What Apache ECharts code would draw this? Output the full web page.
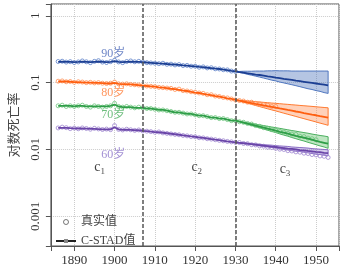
<!DOCTYPE html>
<html>
<head>
<meta charset="utf-8">
<script src="https://cdn.jsdelivr.net/npm/echarts@6/dist/echarts.min.js"></script>
<style>
  html, body { margin: 0; padding: 0; background: #fff; }
  #main { width: 344px; height: 269px; }
</style>
</head>
<body>
<div id="main"></div>
<script>
// 年份：观测从1886年开始，预测从1930年开始
var startYear = 1886;
var cutYear = 1930;
var xTicks = [1890, 1900, 1910, 1920, 1930, 1940, 1950];
var yTicks = [1, 0.1, 0.01, 0.001];
var periodLines = [1907, 1930];

// 真实值（观测）
var obs90 = [0.207,0.209,0.203,0.206,0.200,0.204,0.211,0.205,0.199,0.208,0.213,0.203,0.200,0.206,0.216,0.204,0.199,0.207,0.211,0.205,
  0.208,0.203,0.199,0.197,0.195,0.192,0.195,0.188,0.189,0.184,0.186,0.180,0.181,0.176,0.176,0.170,0.172,0.166,0.167,0.161,
  0.160,0.156,0.155,0.149,0.147];
var obs80 = [0.105,0.106,0.103,0.104,0.101,0.103,0.102,0.100,0.101,0.099,0.100,0.098,0.097,0.098,0.102,0.096,0.095,0.096,0.094,0.093,
  0.092,0.090,0.089,0.088,0.087,0.085,0.084,0.083,0.082,0.079,0.080,0.076,0.075,0.073,0.072,0.070,0.069,0.066,0.066,0.063,
  0.062,0.060,0.059,0.057,0.055,0.054,0.053,0.051,0.051,0.049,0.048,0.047,0.046,0.044,0.044];
var obs70 = [0.045,0.046,0.044,0.045,0.044,0.045,0.046,0.044,0.043,0.045,0.044,0.043,0.044,0.045,0.049,0.044,0.043,0.044,0.043,0.042,
  0.043,0.042,0.041,0.041,0.040,0.039,0.039,0.038,0.037,0.036,0.036,0.035,0.034,0.034,0.033,0.032,0.032,0.031,0.030,0.030,
  0.029,0.029,0.028,0.027,0.027,0.026,0.0255,0.0245,0.024,0.0228,0.0222,0.0212,0.0208,0.0198,0.0194,0.0186,0.0182,0.0174,0.0170,0.0168,
  0.0158,0.0156,0.0148,0.0145,0.0140];
var obs60 = [0.0210,0.0216,0.0212,0.0205,0.0209,0.0204,0.0210,0.0206,0.0201,0.0207,0.0203,0.0199,0.0202,0.0198,0.0228,0.0200,0.0196,0.0201,0.0197,0.0193,
  0.0196,0.0190,0.0188,0.0185,0.0181,0.0183,0.0177,0.0174,0.0171,0.0168,0.0166,0.0162,0.0160,0.0156,0.0155,0.0150,0.0149,0.0145,0.0143,0.0140,
  0.0137,0.0135,0.0132,0.0130,0.0128,0.0127,0.0123,0.0122,0.0118,0.0117,0.0113,0.0112,0.0108,0.0107,0.0104,0.0101,0.0100,0.0096,0.0095,0.0092,
  0.0091,0.0088,0.0087,0.0084,0.0083,0.0080,0.0079,0.0076];

// C-STAD 拟合值 1886-1930
var fit90 = [0.205,0.206,0.205,0.204,0.203,0.204,0.206,0.205,0.203,0.205,0.207,0.205,0.203,0.205,0.210,0.205,0.202,0.204,0.206,0.205,
  0.205,0.203,0.200,0.198,0.196,0.194,0.193,0.190,0.188,0.186,0.184,0.181,0.179,0.177,0.175,0.172,0.170,0.167,0.165,0.162,
  0.160,0.157,0.154,0.150,0.147];
var fit80 = [0.104,0.104,0.104,0.103,0.102,0.102,0.101,0.100,0.100,0.099,0.099,0.098,0.097,0.097,0.099,0.096,0.095,0.095,0.094,0.093,
  0.092,0.090,0.089,0.088,0.087,0.085,0.084,0.083,0.081,0.080,0.078,0.076,0.075,0.073,0.071,0.070,0.068,0.066,0.065,0.063,
  0.062,0.060,0.058,0.057,0.055];
var fit70 = [0.045,0.045,0.045,0.045,0.044,0.045,0.045,0.044,0.044,0.044,0.044,0.044,0.044,0.045,0.047,0.044,0.043,0.043,0.043,0.042,
  0.042,0.042,0.041,0.041,0.040,0.039,0.039,0.038,0.037,0.036,0.036,0.035,0.034,0.034,0.033,0.032,0.032,0.031,0.030,0.030,
  0.029,0.029,0.028,0.027,0.027];
var fit60 = [0.0210,0.0211,0.0210,0.0208,0.0207,0.0206,0.0207,0.0205,0.0203,0.0204,0.0202,0.0200,0.0200,0.0200,0.0215,0.0200,0.0197,0.0198,0.0196,0.0194,
  0.0194,0.0190,0.0188,0.0185,0.0182,0.0181,0.0178,0.0175,0.0172,0.0169,0.0166,0.0163,0.0160,0.0157,0.0155,0.0151,0.0149,0.0146,0.0143,0.0140,
  0.0138,0.0135,0.0132,0.0130,0.0128];

// 预测 1930-1953：均值、上界、下界
var pred90 = [0.147,0.144,0.141,0.138,0.135,0.132,0.130,0.127,0.124,0.122,0.119,0.117,0.114,0.112,0.110,0.107,0.105,0.103,0.101,0.099,0.097,0.095,0.093,0.091];
var up90   = [0.147,0.147,0.148,0.148,0.148,0.149,0.149,0.149,0.150,0.150,0.151,0.150,0.150,0.150,0.149,0.149,0.149,0.149,0.149,0.149,0.149,0.149,0.149,0.149];
var lo90   = [0.147,0.142,0.138,0.133,0.129,0.125,0.121,0.117,0.113,0.109,0.106,0.102,0.099,0.096,0.093,0.090,0.087,0.084,0.081,0.079,0.076,0.074,0.071,0.069];
var pred80 = [0.055,0.0536,0.0522,0.0508,0.0495,0.0482,0.0470,0.0457,0.0445,0.0434,0.0422,0.0411,0.0401,0.0390,0.0380,0.0370,0.0361,0.0351,0.0342,0.0333,0.0325,0.0316,0.0308,0.0300];
var up80   = [0.055,0.0544,0.0537,0.0531,0.0525,0.0519,0.0513,0.0507,0.0501,0.0495,0.0490,0.0484,0.0478,0.0473,0.0467,0.0462,0.0456,0.0451,0.0446,0.0441,0.0435,0.0430,0.0425,0.0420];
var lo80   = [0.055,0.0530,0.0510,0.0491,0.0473,0.0455,0.0438,0.0422,0.0406,0.0391,0.0377,0.0363,0.0349,0.0336,0.0324,0.0312,0.0300,0.0289,0.0278,0.0268,0.0258,0.0248,0.0239,0.0230];
var pred70 = [0.0270,0.0261,0.0252,0.0243,0.0235,0.0227,0.0219,0.0212,0.0205,0.0198,0.0191,0.0184,0.0178,0.0172,0.0166,0.0160,0.0155,0.0150,0.0145,0.0140,0.0135,0.0130,0.0126,0.0122];
var up70   = [0.0270,0.0264,0.0257,0.0251,0.0245,0.0239,0.0233,0.0228,0.0222,0.0217,0.0212,0.0207,0.0202,0.0197,0.0192,0.0188,0.0183,0.0179,0.0175,0.0170,0.0166,0.0162,0.0159,0.0155];
var lo70   = [0.0270,0.0259,0.0248,0.0238,0.0229,0.0220,0.0211,0.0202,0.0194,0.0186,0.0179,0.0171,0.0164,0.0158,0.0151,0.0145,0.0139,0.0134,0.0128,0.0123,0.0118,0.0113,0.0109,0.0104];
var pred60 = [0.0128,0.0126,0.0124,0.0122,0.0120,0.0118,0.0116,0.0114,0.0112,0.0110,0.0109,0.0107,0.0105,0.0103,0.0102,0.0100,0.0098,0.0097,0.0095,0.0094,0.0092,0.0091,0.0089,0.0088];
var up60   = [0.0128,0.0127,0.0125,0.0124,0.0122,0.0121,0.0120,0.0118,0.0117,0.0116,0.0114,0.0113,0.0112,0.0111,0.0109,0.0108,0.0107,0.0106,0.0105,0.0103,0.0102,0.0101,0.0100,0.0099];
var lo60   = [0.0128,0.0125,0.0123,0.0120,0.0118,0.0116,0.0113,0.0111,0.0109,0.0107,0.0105,0.0102,0.0100,0.0098,0.0096,0.0094,0.0093,0.0091,0.0089,0.0087,0.0085,0.0084,0.0082,0.0080];

// 年龄组标签
var ageNames = ['90岁', '80岁', '70岁', '60岁'];
var ageLabelPos = [[1899.7, 0.27], [1899.7, 0.071], [1899.7, 0.0335], [1899.7, 0.0084]];
var periodNames = ['1', '2', '3'];
var periodLabelPos = [[1896.3, 0.0054], [1920.4, 0.0054], [1942.3, 0.0050]];

var serif = '"Liberation Serif", "Noto Sans CJK SC", serif';

var groups = [
  { obs: obs90, fit: fit90, pred: pred90, up: up90, lo: lo90, line: '#1c3f93', pt: '#5b7fc8', band: 'rgba(70,110,185,0.4)', edge: '#4f76bf', lab: '#4a68b8' },
  { obs: obs80, fit: fit80, pred: pred80, up: up80, lo: lo80, line: '#ff5f10', pt: '#ff9055', band: 'rgba(255,140,80,0.4)', edge: '#ff7a30', lab: '#ff7a35' },
  { obs: obs70, fit: fit70, pred: pred70, up: up70, lo: lo70, line: '#2f9e48', pt: '#6cc47c', band: 'rgba(110,200,120,0.45)', edge: '#4cb060', lab: '#4aae5e' },
  { obs: obs60, fit: fit60, pred: pred60, up: up60, lo: lo60, line: '#6a45a8', pt: '#9d84cf', band: 'rgba(150,125,210,0.4)', edge: '#8a6cc4', lab: '#8a72c8' }
];

function pairs(from, vals) {
  var out = [];
  for (var i = 0; i < vals.length; i++) out.push([from + i, vals[i]]);
  return out;
}

var series = [];

groups.forEach(function (g) {
  // 预测区间：上界顺序 + 下界逆序 组成多边形
  var bandData = g.up.map(function (v, i) { return [cutYear + i, g.lo[i], v]; });
  series.push({
    type: 'custom', data: bandData, z: 1, silent: true,
    encode: { x: 0, y: [1, 2] },
    renderItem: function (params, api) {
      if (params.dataIndex !== 0) return null;
      var pts = [];
      for (var i = 0; i < bandData.length; i++) pts.push(api.coord([bandData[i][0], bandData[i][2]]));
      for (var j = bandData.length - 1; j >= 0; j--) pts.push(api.coord([bandData[j][0], bandData[j][1]]));
      return {
        type: 'polygon', shape: { points: pts },
        style: { fill: g.band, stroke: g.edge, lineWidth: 1 }
      };
    }
  });

  // 真实值
  series.push({
    type: 'scatter', data: pairs(startYear, g.obs), symbol: 'circle', symbolSize: 4, z: 2,
    itemStyle: { color: 'rgba(255,255,255,0)', borderColor: g.pt, borderWidth: 1 }, silent: true
  });

  // C-STAD 拟合 + 预测均值
  series.push({
    type: 'line', data: pairs(startYear, g.fit).concat(pairs(cutYear + 1, g.pred.slice(1))),
    symbol: 'none', z: 3, lineStyle: { color: g.line, width: 1.8 }, silent: true
  });
});

// 分段虚线
series.push({
  type: 'line', data: [], silent: true,
  markLine: {
    symbol: 'none', silent: true, label: { show: false },
    lineStyle: { color: '#555', type: [4, 2], width: 1.5 },
    data: periodLines.map(function (y) { return { xAxis: y }; })
  }
});

// 文本标注
series.push({
  type: 'scatter', symbolSize: 0, z: 5, silent: true,
  data: ageNames.map(function (n, i) {
    return { value: ageLabelPos[i], name: n, label: { color: groups[i].lab } };
  }).concat(periodNames.map(function (n, i) {
    return { value: periodLabelPos[i], name: n, label: { color: '#111', fontSize: 14,
      formatter: 'c{s|' + n + '}', rich: { s: { fontSize: 9, fontFamily: serif, color: '#111', verticalAlign: 'bottom', padding: [8, 0, 0, 0] } } } };
  })),
  label: { show: true, position: 'inside', formatter: '{b}', fontFamily: serif, fontSize: 12 }
});

// 图例用
series.push({
  name: '真实值', type: 'scatter', data: [], symbol: 'circle', color: '#444'
});
series.push({
  name: 'C-STAD值', type: 'line', data: [], symbol: 'rect', symbolSize: 4, color: '#222',
  lineStyle: { width: 2, color: '#222' }, itemStyle: { color: '#888' }
});

var chart = echarts.init(document.getElementById('main'));
chart.setOption({
  backgroundColor: '#fff',
  animation: false,
  grid: { left: 46, right: 5, top: 4, bottom: 23, show: true, borderColor: '#555', borderWidth: 1 },
  legend: {
    orient: 'vertical', left: 50, top: 211, itemWidth: 20, itemHeight: 5, itemGap: 7,
    data: [
      { name: '真实值', icon: 'circle', itemStyle: { color: 'rgba(255,255,255,0)', borderColor: '#444', borderWidth: 0.9 } },
      'C-STAD值'
    ],
    textStyle: { fontFamily: serif, fontSize: 12, color: '#444' }
  },
  xAxis: {
    type: 'value', min: 1884.2, max: 1955.7, splitNumber: 7,
    axisLine: { show: true, lineStyle: { color: '#555' } },
    axisTick: { show: true, length: 5, lineStyle: { color: '#555' } },
    axisLabel: {
      margin: 8, fontFamily: serif, fontSize: 13, color: '#333',
      formatter: function (v) { return xTicks.indexOf(v) >= 0 ? String(v) : ''; }
    },
    splitLine: { show: true, lineStyle: { type: 'dotted', color: '#ccc' } }
  },
  yAxis: {
    type: 'log', logBase: 10, min: 0.00036, max: 1.5,
    name: '对数死亡率', nameLocation: 'middle', nameGap: 25, nameRotate: 90,
    nameTextStyle: { fontFamily: serif, fontSize: 13, color: '#444' },
    axisLine: { show: true, lineStyle: { color: '#555' } },
    axisTick: { show: true, length: 5, lineStyle: { color: '#555' } },
    axisLabel: {
      rotate: 90, margin: 9, fontFamily: serif, fontSize: 13, color: '#333',
      formatter: function (v) {
        for (var i = 0; i < yTicks.length; i++) {
          if (Math.abs(Math.log10(v) - Math.log10(yTicks[i])) < 1e-6) return String(yTicks[i]);
        }
        return '';
      }
    },
    splitLine: { show: true, lineStyle: { type: 'dotted', color: '#ccc' } }
  },
  series: series
});
</script>
</body>
</html>
